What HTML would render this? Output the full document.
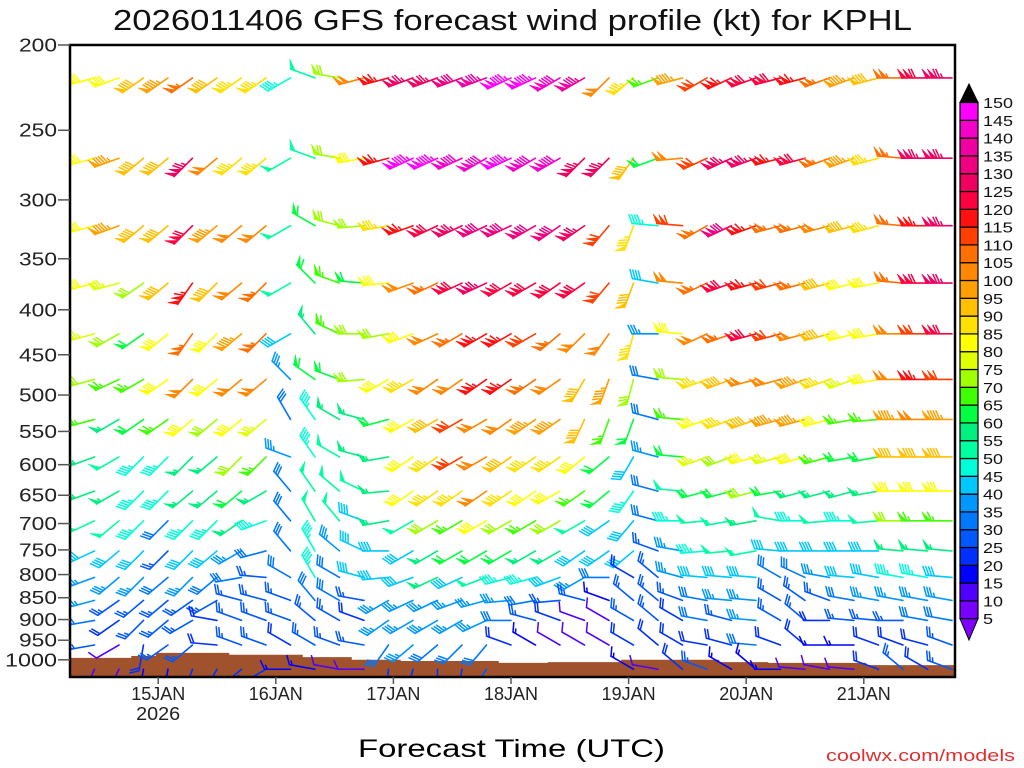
<!DOCTYPE html>
<html><head><meta charset="utf-8"><title>GFS wind profile KPHL</title>
<style>html,body{margin:0;padding:0;background:#fff}svg{display:block}</style></head>
<body>
<svg id="chart" xmlns="http://www.w3.org/2000/svg" width="1024" height="768" viewBox="0 0 1024 768" font-family="Liberation Sans, sans-serif">
<rect x="0" y="0" width="1024" height="768" fill="#fff"/>
<text x="113" y="30" font-size="29" textLength="799" lengthAdjust="spacingAndGlyphs" fill="#111">2026011406 GFS forecast wind profile (kt) for KPHL</text>
<defs><clipPath id="plotclip"><rect x="70" y="45" width="885" height="632"/></clipPath></defs>
<g id="ground" clip-path="url(#plotclip)"></g>
<g id="barbs" clip-path="url(#plotclip)"></g>
<rect x="70" y="45" width="885" height="632" fill="none" stroke="#000" stroke-width="2.5"/>
<g id="yaxis"></g>
<g id="xaxis"></g>
<g id="cbar"></g>
<text x="358" y="757" font-size="25" textLength="307" lengthAdjust="spacingAndGlyphs" fill="#000">Forecast Time (UTC)</text>
<text x="826" y="761" font-size="17" textLength="189" lengthAdjust="spacingAndGlyphs" fill="#e03030">coolwx.com/models</text>
</svg>
<script>
const NS="http://www.w3.org/2000/svg";
// ---- data ----
const hours=[5,10,15,20,25,30,35,40,45,50,55,60,65,70,75,80,85,90,95,100,105,110,115,120,125,130,135,140,145,150,155,160,165,170,175,180];
const levels=[218,269,321,373,426,480,533,588,643,695,752,806,856,902,962,1025];
const surfacePressure=[995,995,990,982,982,982,987,987,987,993,993,1000,1000,1003,1003,1003,1003,1008,1008,1006,1006,1006,1000,1000,1000,1000,1006,1006,1008,1008,1008,1008,1014,1014,1014,1014];
const spd218=[80,80,90,95,105,90,85,85,45,50,70,100,115,125,125,130,135,145,145,140,135,100,85,65,95,110,115,120,120,115,105,95,90,105,120,125];
const dir218=[255,250,235,235,235,235,235,235,240,290,280,255,255,250,250,250,250,245,245,240,240,225,230,250,255,240,245,250,255,255,250,250,255,270,270,270];
const spd269=[80,95,90,90,125,100,85,85,50,50,70,80,115,145,145,140,140,145,140,140,125,125,90,60,100,110,125,125,115,120,105,95,85,105,125,125];
const dir269=[255,250,230,230,225,230,230,230,240,290,280,260,255,245,245,245,240,245,240,240,225,225,215,250,265,245,245,250,255,255,250,250,255,275,270,270];
const spd321=[80,95,90,90,120,95,100,100,50,60,70,70,85,115,120,125,130,130,130,130,125,110,85,45,110,105,130,115,105,105,100,90,85,105,115,125];
const dir321=[255,250,230,230,225,230,230,230,240,300,285,265,260,250,245,245,245,245,240,235,235,220,200,275,275,240,245,250,255,255,255,255,255,275,270,270];
const spd373=[80,75,70,90,115,90,100,105,50,60,65,60,80,100,105,120,125,120,120,120,120,110,90,40,100,105,120,115,110,105,90,80,80,105,120,125];
const dir373=[255,255,235,230,215,225,230,225,240,315,290,275,265,250,245,245,245,240,240,235,235,220,200,280,275,245,250,255,255,255,255,255,260,275,270,270];
const spd426=[75,70,60,80,105,80,95,105,40,55,65,70,70,80,100,105,115,115,110,105,100,100,85,35,80,100,105,120,110,100,90,80,80,100,110,120];
const dir426=[255,240,235,230,215,225,230,225,240,320,295,270,260,250,245,240,240,240,240,230,225,215,195,270,275,245,250,255,255,255,255,255,260,270,270,270];
const spd480=[70,65,65,80,100,80,100,100,35,60,60,70,80,85,100,100,115,115,105,100,90,95,70,30,70,85,90,100,100,95,85,75,80,100,115,110];
const dir480=[255,245,240,235,225,230,230,230,315,305,290,265,240,240,235,235,235,235,235,235,210,200,195,280,275,250,250,255,255,250,250,250,260,270,270,270];
const spd533=[65,55,60,65,80,70,80,75,30,45,55,55,60,80,90,110,100,100,95,95,90,65,60,30,65,80,85,90,95,95,80,65,65,95,100,95];
const dir533=[255,240,235,235,230,230,230,230,330,325,300,285,255,240,240,240,240,235,235,235,205,200,200,285,275,250,250,250,255,255,255,260,265,270,270,270];
const spd588=[55,50,45,45,55,55,70,65,35,45,50,55,55,80,85,110,100,90,85,85,80,60,40,35,60,75,70,80,75,80,65,60,60,90,90,90];
const dir588=[250,240,225,225,225,230,225,225,290,325,300,285,260,235,235,240,240,235,235,235,230,230,210,285,275,250,250,255,255,255,255,260,260,270,270,270];
const spd643=[55,55,45,45,55,55,60,55,30,50,50,50,55,80,85,85,100,85,80,80,65,60,45,30,50,60,60,70,60,55,55,55,55,80,80,80];
const dir643=[250,240,225,225,230,230,230,240,320,325,310,295,265,235,235,235,235,235,235,240,235,230,215,285,275,255,255,255,260,255,255,255,260,270,270,270];
const spd695=[50,50,45,30,45,45,55,45,30,50,50,40,55,50,70,65,80,70,65,70,50,40,40,30,45,50,50,55,50,45,50,45,50,70,65,65];
const dir695=[245,230,225,225,225,225,235,250,320,330,320,290,260,240,240,240,240,240,240,240,240,235,220,285,270,265,260,260,280,270,265,270,265,270,270,270];
const spd752=[40,40,40,25,40,40,35,30,30,45,35,40,40,40,55,60,60,60,55,55,40,40,40,25,35,45,50,50,40,40,40,40,40,55,55,55];
const dir752=[245,230,225,225,225,230,240,255,320,330,310,295,270,240,240,240,240,240,240,240,235,235,230,290,280,265,265,260,275,270,270,270,270,275,275,275];
const spd806=[35,35,35,30,35,30,30,25,30,45,30,40,40,40,55,40,50,45,45,40,35,30,20,25,35,40,40,40,30,30,35,40,40,45,45,40];
const dir806=[250,230,225,230,225,230,260,275,300,330,300,285,265,250,245,245,250,255,255,250,240,270,300,310,285,275,275,275,300,295,280,275,280,280,280,275];
const spd856=[35,25,25,25,25,25,25,25,25,30,30,25,35,35,35,35,35,35,30,25,25,15,25,25,25,30,35,35,25,25,25,30,35,35,35,35];
const dir856=[255,235,230,230,235,240,285,285,290,320,300,280,240,245,245,250,255,265,260,265,285,290,310,310,290,280,275,275,300,305,290,280,280,280,280,280];
const spd902=[30,20,25,25,25,20,25,25,25,25,25,20,35,35,35,35,35,30,25,20,10,10,25,25,20,30,25,35,25,25,20,25,25,25,30,30];
const dir902=[260,235,225,230,240,280,290,290,290,310,300,290,235,240,240,240,245,270,285,290,290,300,300,310,300,280,285,275,300,310,270,275,275,270,280,280];
const spd962=[25,10,20,25,25,20,25,25,20,25,25,25,30,35,30,30,30,20,15,10,10,10,20,20,20,20,20,30,20,20,15,15,20,20,20,25];
const dir962=[260,240,190,235,230,275,290,290,300,300,290,280,215,230,230,225,220,290,300,300,300,300,300,310,300,280,285,275,290,310,270,270,290,290,285,290];
const spd1025=[10,10,15,15,20,20,20,20,15,15,10,10,20,20,20,20,25,null,null,null,null,null,15,10,20,25,15,15,15,10,10,10,20,25,20,25];
const dir1025=[205,205,190,190,200,210,230,240,270,280,280,270,185,195,180,190,215,null,null,null,null,null,300,280,310,290,300,310,270,275,280,275,290,310,300,290];
const speedRows=[spd218,spd269,spd321,spd373,spd426,spd480,spd533,spd588,spd643,spd695,spd752,spd806,spd856,spd902,spd962,spd1025];
const dirRows=[dir218,dir269,dir321,dir373,dir426,dir480,dir533,dir588,dir643,dir695,dir752,dir806,dir856,dir902,dir962,dir1025];
const yTicks=[200,250,300,350,400,450,500,550,600,650,700,750,800,850,900,950,1000];
const dayHours=[18,42,66,90,114,138,162];
const dayLabels=["15JAN","16JAN","17JAN","18JAN","19JAN","20JAN","21JAN"];
const cbarLabels=[5,10,15,20,25,30,35,40,45,50,55,60,65,70,75,80,85,90,95,100,105,110,115,120,125,130,135,140,145,150];
const palette=['#7800ff','#5000ff','#0000ff','#0030ff','#0058ff','#0078ff','#0098ff','#00c8ff','#00ffd8','#00ffa0','#00f080','#00ff40','#40ff00','#a0ff00','#e0ff00','#ffff00','#ffe000','#ffc000','#ffa000','#ff8800','#ff7000','#ff4000','#ff1010','#ff0040','#f00060','#f00080','#f000a0','#f500c8','#ff00ff'];

// ---- axes ----
const PX0=70,PX1=955,PY0=45,PY1=677;
function xOf(h){return PX0+h*4.9;}
function yOf(p){return PY0+382*Math.log(p/200);}
function colorOf(s){let k=Math.floor(s/5)-1;if(k<0)k=0;if(k>palette.length-1)k=palette.length-1;return palette[k];}
function mk(tag,attrs,parent){const e=document.createElementNS(NS,tag);for(const k in attrs)e.setAttribute(k,attrs[k]);if(parent)parent.appendChild(e);return e;}

// y axis
const yax=document.getElementById('yaxis');
yTicks.forEach(p=>{
  const y=yOf(p);
  const t=mk('line',{x1:58,y1:y,x2:70,y2:y,stroke:'#555','stroke-width':1.5},yax);
  
  
  const lb=mk('text',{x:57,y:y+6.5,'font-size':18,'text-anchor':'end',fill:'#222',textLength:String(p).length>3?52:38,lengthAdjust:'spacingAndGlyphs'},yax);
  lb.textContent=p;
  
  
});
// x axis
const xax=document.getElementById('xaxis');
dayHours.forEach((h,i)=>{
  const x=xOf(h);
  const t=mk('line',{x1:x,y1:PY1,x2:x,y2:PY1+7,stroke:'#555','stroke-width':1.5},xax);
  
  
  const lb=mk('text',{x:x,y:700,'font-size':18,'text-anchor':'middle',fill:'#222',textLength:54,lengthAdjust:'spacingAndGlyphs'},xax);
  lb.textContent=dayLabels[i];
  
  
  if(i===0){
    const yl=mk('text',{x:x,y:720,'font-size':18,'text-anchor':'middle',fill:'#222',textLength:44,lengthAdjust:'spacingAndGlyphs'},xax);
    yl.textContent='2026';
    
    
  }
});

// ground
const gnd=document.getElementById('ground');
let pts=[[PX0,PY1]];
hours.forEach((h,i)=>{
  const x=xOf(h),y=yOf(surfacePressure[i]);
  const half=12.25;
  pts.push([x-half,y]);pts.push([x+half,y]);
});
pts[1][0]=PX0;pts[pts.length-1][0]=PX1;
pts.push([PX1,PY1]);
const gp=mk('polygon',{points:pts.map(p=>p.join(',')).join(' '),fill:'#a0522d'},gnd);



// barbs
const bg=document.getElementById('barbs');
const L=26,FL=10,ROT=65*Math.PI/180;
function drawBarb(x,y,s,d){
  const g=mk('g',{},bg);
  
  
  const c=colorOf(s);
  const r=d*Math.PI/180;
  const ux=Math.sin(r),uy=-Math.cos(r);
  const fx=ux*Math.cos(ROT)-uy*Math.sin(ROT), fy=ux*Math.sin(ROT)+uy*Math.cos(ROT);
  const tx=x+ux*L,ty=y+uy*L;
  mk('line',{x1:x,y1:y,x2:tx,y2:ty,stroke:c,'stroke-width':1.6,'stroke-linecap':'round'},g);
  let rem=Math.round(s/5)*5;
  let flags=Math.floor(rem/50);rem-=flags*50;
  let tens=Math.floor(rem/10);rem-=tens*10;
  let five=rem>=5;
  let pos=0;
  for(let i=0;i<flags;i++){
    const ax=tx-ux*pos,ay=ty-uy*pos,bx=tx-ux*(pos+5),by=ty-uy*(pos+5);
    mk('polygon',{points:`${ax},${ay} ${ax+fx*FL},${ay+fy*FL} ${bx},${by}`,fill:c,stroke:c,'stroke-width':0.6},g);
    pos+=5.5;
  }
  for(let i=0;i<tens;i++){
    const ax=tx-ux*pos,ay=ty-uy*pos;
    mk('line',{x1:ax,y1:ay,x2:ax+fx*FL,y2:ay+fy*FL,stroke:c,'stroke-width':1.5},g);
    pos+=2.8;
  }
  if(five){
    if(pos===0)pos=3;
    const ax=tx-ux*pos,ay=ty-uy*pos;
    mk('line',{x1:ax,y1:ay,x2:ax+fx*FL*0.5,y2:ay+fy*FL*0.5,stroke:c,'stroke-width':1.5},g);
  }
}
levels.forEach((p,li)=>{
  const y=yOf(p);
  hours.forEach((h,ci)=>{
    const s=speedRows[li][ci],d=dirRows[li][ci];
    if(s===null||d===null)return;
    drawBarb(xOf(h),y,s,d);
  });
});

// colorbar
const cb=document.getElementById('cbar');
const CX=960,CW=18,CT=102.5,CH=17.8,N=palette.length;
for(let i=0;i<N;i++){
  const y=CT+(N-1-i)*CH;
  const r=mk('rect',{x:CX,y:y,width:CW,height:CH,fill:palette[i],stroke:'#000','stroke-width':1.2},cb);
  
  
}
const topArrow=mk('polygon',{points:`${CX},${CT} ${CX+CW/2},84 ${CX+CW},${CT}`,fill:'#000',stroke:'#000'},cb);


const botArrow=mk('polygon',{points:`${CX},${CT+N*CH} ${CX+CW/2},640 ${CX+CW},${CT+N*CH}`,fill:'#8000ff',stroke:'#000'},cb);


cbarLabels.forEach((v,i)=>{
  const y=CT+N*CH-i*CH;
  const t=mk('text',{x:983,y:y+5.5,'font-size':15,fill:'#111',textLength:String(v).length*10,lengthAdjust:'spacingAndGlyphs'},cb);
  t.textContent=v;
  
  
});
</script>
</body></html>
